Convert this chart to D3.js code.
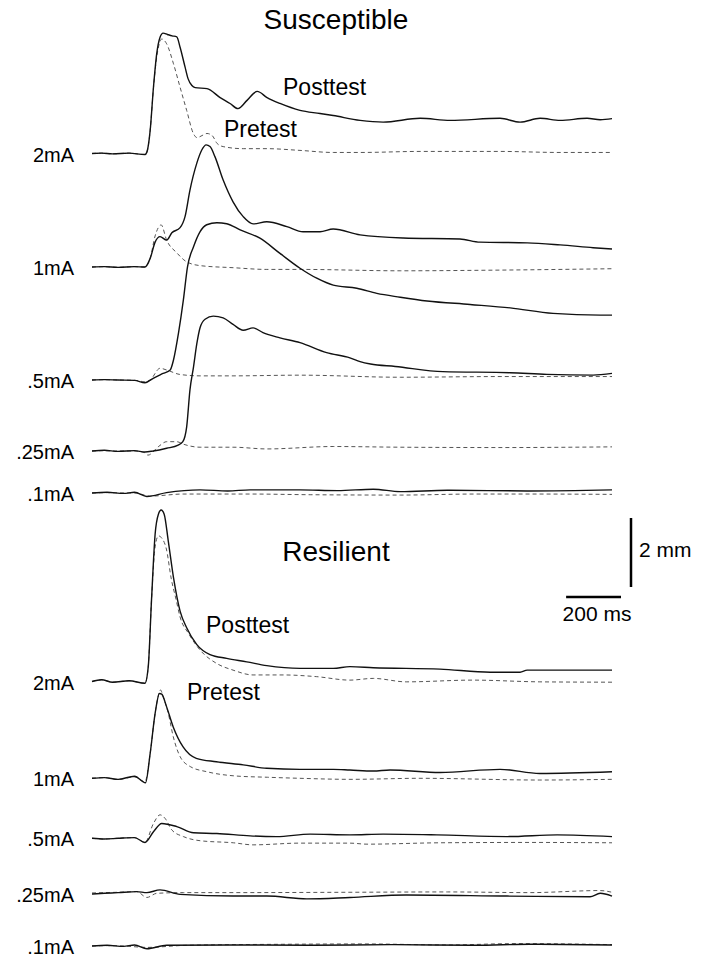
<!DOCTYPE html>
<html>
<head>
<meta charset="utf-8">
<script src="https://cdn.jsdelivr.net/npm/d3@7"></script>
<style>
  body { margin: 0; background: #fff; }
  svg { display: block; font-family: "Liberation Sans", Arial, sans-serif; }
</style>
</head>
<body>
<div id="chart"></div>
<script>
// Startle traces, [time (ms), amplitude (mm)]
const stimuli = ["2mA", "1mA", ".5mA", ".25mA", ".1mA"];
const groups = ["Susceptible", "Resilient"];

// Susceptible
const susPost2 = [[-95,0],[-60,0.01],[-20,-0.01],[40,0.01],[98,-0.03],[105,0.04],[117,0.67],[129,1.92],[141,2.90],[153,3.37],[164,3.49],[180,3.45],[197,3.41],[214,3.38],[226,3.08],[244,2.51],[255,2.17],[269,1.97],[281,1.91],[324,1.88],[372,1.62],[408,1.45],[437,1.30],[470,1.54],[507,1.80],[543,1.62],[590,1.45],[663,1.25],[736,1.16],[784,1.10],[882,0.96],[966,0.91],[1101,1.02],[1210,0.96],[1392,1.02],[1465,0.91],[1538,1.02],[1611,0.96],[1709,1.02],[1757,0.98],[1800,1.01]];
const susPre2 = [[-95,0],[-60,0.01],[-20,-0.01],[40,0.01],[98,-0.03],[105,0.04],[117,0.67],[129,1.9],[141,2.8],[153,3.25],[159,3.32],[177,3.18],[202,2.6],[226,1.92],[250,1.25],[275,0.57],[288,0.46],[306,0.52],[324,0.58],[343,0.52],[361,0.29],[383,0.20],[456,0.14],[543,0.14],[663,0.09],[784,0.03],[882,0.03],[1101,0.06],[1392,0.06],[1611,0.03],[1800,0.03]];
const susPost1 = [[-95,0],[-50,0.01],[0,-0.01],[60,0.01],[98,0],[117,0.25],[135,0.72],[153,0.88],[177,0.78],[196,0.99],[226,1.14],[244,1.46],[262,2.23],[287,3.01],[305,3.39],[321,3.54],[335,3.49],[353,3.20],[383,2.52],[419,1.89],[456,1.46],[492,1.25],[542,1.31],[615,1.17],[674,1.02],[736,1.02],[784,1.10],[882,0.93],[1039,0.84],[1246,0.81],[1319,0.72],[1491,0.70],[1611,0.64],[1731,0.56],[1800,0.52]];
const susPre1 = [[-95,0],[-50,0.01],[0,-0.01],[60,0.01],[98,0],[117,0.25],[135,0.9],[157,1.22],[177,0.78],[214,0.41],[250,0.15],[299,0.04],[419,-0.02],[542,-0.07],[663,-0.07],[1028,-0.11],[1392,-0.09],[1800,-0.05]];
const susPost05 = [[-95,0],[-50,0.01],[0,0],[60,-0.01],[98,-0.08],[128,0.05],[164,0.19],[190,0.29],[202,0.58],[220,1.35],[238,2.32],[253,3.28],[275,3.86],[299,4.30],[323,4.50],[360,4.56],[396,4.53],[445,4.35],[517,4.11],[590,3.67],[663,3.24],[724,2.95],[784,2.75],[870,2.66],[943,2.51],[1028,2.40],[1126,2.29],[1283,2.19],[1429,2.09],[1585,1.93],[1757,1.88],[1800,1.88]];
const susPre05 = [[-95,0],[-50,0.01],[0,0],[60,-0.01],[98,-0.05],[117,0],[153,0.34],[177,0.29],[226,0.16],[299,0.12],[419,0.12],[663,0.14],[1028,0.08],[1392,0.1],[1800,0.1]];
const susPost025 = [[-95,0],[-50,0.02],[0,-0.01],[60,0.01],[98,-0.03],[128,0],[177,0.08],[219,0.17],[236,0.27],[250,0.70],[262,1.77],[275,2.44],[287,3.11],[299,3.58],[317,3.82],[347,3.91],[383,3.86],[419,3.67],[456,3.50],[492,3.57],[528,3.43],[590,3.28],[663,3.14],[760,2.85],[845,2.70],[882,2.59],[920,2.52],[1010,2.45],[1184,2.30],[1429,2.27],[1563,2.22],[1731,2.20],[1800,2.25]];
const susPre025 = [[-95,0],[-50,0.01],[0,0],[60,0],[98,-0.05],[109,-0.12],[146,0.12],[177,0.27],[214,0.27],[237,0.20],[299,0.11],[419,0.11],[542,0.06],[784,0.13],[1028,0.11],[1400,0.1],[1800,0.12]];
const susPost01 = [[-95,0],[-40,0.02],[20,-0.01],[60,0.02],[105,-0.1],[177,0.01],[299,0.09],[400,0.06],[481,0.09],[663,0.09],[800,0.07],[930,0.11],[1028,0.04],[1200,0.08],[1500,0.06],[1800,0.09]];
const susPre01 = [[-95,0],[-40,0.01],[20,0],[60,0],[117,-0.09],[237,-0.03],[481,-0.03],[700,-0.05],[1028,-0.06],[1300,-0.03],[1500,-0.03],[1800,-0.04]];

// Resilient
const resPost2 = [[-95,0],[-60,0.05],[-20,-0.02],[40,0.02],[98,-0.05],[110,0.43],[122,2.38],[135,4.27],[147,4.85],[157,4.97],[168,4.85],[183,4.07],[202,3.01],[226,2.04],[250,1.56],[287,1.07],[335,0.78],[396,0.67],[469,0.57],[542,0.46],[663,0.38],[784,0.38],[845,0.43],[930,0.40],[1173,0.36],[1356,0.27],[1465,0.27],[1491,0.33],[1658,0.33],[1800,0.33]];
const resPre2 = [[-95,0],[-60,0.05],[-20,-0.02],[40,0.02],[98,-0.05],[110,0.43],[122,2.38],[135,3.9],[147,4.22],[160,4.15],[176,3.84],[194,2.97],[211,2.39],[226,1.87],[257,1.39],[299,0.91],[360,0.52],[419,0.33],[492,0.19],[601,0.19],[724,0.14],[845,0.04],[930,0.09],[1050,-0.01],[1293,0.04],[1537,-0.01],[1800,-0.02]];
const resPost1 = [[-95,0],[-50,0.02],[0,-0.03],[60,0.06],[100,-0.13],[117,0.72],[135,1.88],[151,2.46],[159,2.44],[177,2.07],[201,1.49],[237,0.91],[285,0.58],[358,0.48],[456,0.39],[542,0.29],[663,0.26],[785,0.26],[845,0.24],[930,0.21],[991,0.24],[1173,0.17],[1392,0.26],[1537,0.14],[1800,0.19]];
const resPre1 = [[-95,0],[-50,0.02],[0,-0.03],[60,0.04],[98,-0.1],[117,0.72],[135,1.88],[155,2.56],[164,2.37],[183,1.88],[201,1.21],[226,0.63],[263,0.34],[324,0.19],[424,0.07],[545,0.03],[663,0],[845,-0.03],[1100,0],[1537,-0.05],[1800,-0.03]];
const resPost05 = [[-95,0],[-50,-0.02],[0,0],[60,0.02],[98,-0.12],[129,0.19],[159,0.43],[214,0.34],[275,0.16],[360,0.14],[481,0.07],[578,0.05],[700,0.12],[845,0.10],[966,0.12],[1162,0.10],[1418,0.05],[1600,0.10],[1800,0.05]];
const resPre05 = [[-95,0],[-50,-0.02],[0,0],[60,0.02],[98,-0.12],[129,0.43],[153,0.68],[171,0.58],[196,0.24],[238,0.05],[299,-0.07],[420,-0.13],[492,-0.19],[663,-0.14],[845,-0.14],[907,-0.17],[1173,-0.13],[1500,-0.12],[1800,-0.13]];
const resPost025 = [[-95,0],[-50,0.02],[0,0.04],[68,0.07],[105,0.04],[153,0.12],[226,-0.01],[420,-0.06],[542,-0.06],[688,-0.14],[845,-0.10],[1050,-0.03],[1418,-0.06],[1720,-0.08],[1757,0.02],[1800,-0.06]];
const resPre025 = [[-95,0.03],[-50,0.04],[0,0.05],[68,0.07],[105,-0.1],[141,0.02],[238,0.04],[420,0.04],[845,0.05],[1200,0.06],[1500,0.04],[1757,0.1],[1800,0.05]];
const resPost01 = [[-95,0],[-40,0.02],[20,-0.01],[60,0.03],[105,-0.08],[177,0.02],[420,0.03],[700,0.02],[1000,0.04],[1300,0.02],[1500,0.05],[1800,0.03]];
const resPre01 = [[-95,0],[-40,0.01],[20,0],[105,-0.04],[250,0.02],[600,0.05],[900,0.06],[1200,0.03],[1450,0.07],[1800,0.04]];

const posttest = [
  [susPost2, susPost1, susPost05, susPost025, susPost01],
  [resPost2, resPost1, resPost05, resPost025, resPost01]
];
const pretest = [
  [susPre2, susPre1, susPre05, susPre025, susPre01],
  [resPre2, resPre1, resPre05, resPre025, resPre01]
];

// layout
const width = 704, height = 959;
const rowBase = [
  [153.5, 267, 380, 451, 493],
  [681.5, 778.3, 838.3, 894, 946]
];
const pxPerMm = 34.5;

const xScale = d3.scaleLinear()
  .domain([-95, 1800])
  .range([92, 612]);

const lineFor = base => {
  const y = d3.scaleLinear().domain([0, 1]).range([base, base - pxPerMm]);
  return d3.line()
    .x(d => xScale(d[0]))
    .y(d => y(d[1]))
    .curve(d3.curveMonotoneX);
};

const svg = d3.select("#chart")
  .append("svg")
    .attr("width", width)
    .attr("height", height)
    .attr("viewBox", [0, 0, width, height]);

groups.forEach((g, gi) => {
  stimuli.forEach((s, si) => {
    const line = lineFor(rowBase[gi][si]);
    // pretest first, dashed
    svg.append("path")
      .attr("d", line(pretest[gi][si]))
      .attr("fill", "none")
      .attr("stroke", "#555")
      .attr("stroke-width", 1)
      .attr("stroke-dasharray", "4,3");
    svg.append("path")
      .attr("d", line(posttest[gi][si]))
      .attr("fill", "none")
      .attr("stroke", "#111")
      .attr("stroke-width", 1.4)
      .attr("stroke-linejoin", "round");

    svg.append("text")
      .text(s)
      .attr("x", 74)
      .attr("y", rowBase[gi][si] + 1)
      .attr("text-anchor", "end")
      .attr("dominant-baseline", "central")
      .style("font-size", "20px");
  });
});

// group titles
const titles = [{text: "Susceptible", y: 28.5}, {text: "Resilient", y: 561}];
svg.selectAll(".title")
  .data(titles)
  .join("text")
    .attr("class", "title")
    .text(d => d.text)
    .attr("x", 336)
    .attr("y", d => d.y)
    .attr("text-anchor", "middle")
    .style("font-size", "28px");

// trace labels
const traceLabels = [
  {text: "Posttest", x: 283, y: 95},
  {text: "Pretest", x: 224, y: 137},
  {text: "Posttest", x: 206, y: 633},
  {text: "Pretest", x: 187, y: 700}
];
svg.selectAll(".trace-label")
  .data(traceLabels)
  .join("text")
    .attr("class", "trace-label")
    .text(d => d.text)
    .attr("x", d => d.x)
    .attr("y", d => d.y)
    .style("font-size", "23px");

// scale bars: 2 mm and 200 ms
const vx = 631, vBottom = 587;
svg.append("line")
  .attr("x1", vx).attr("x2", vx)
  .attr("y1", vBottom).attr("y2", vBottom - 2 * pxPerMm)
  .attr("stroke", "#000")
  .attr("stroke-width", 2.5);
svg.append("text")
  .text("2 mm")
  .attr("x", 639)
  .attr("y", 557)
  .style("font-size", "21px");

const hRight = 621, hy = 597;
const barLen = xScale(200) - xScale(0);
svg.append("line")
  .attr("x1", hRight - barLen).attr("x2", hRight)
  .attr("y1", hy).attr("y2", hy)
  .attr("stroke", "#000")
  .attr("stroke-width", 2.5);
svg.append("text")
  .text("200 ms")
  .attr("x", 597)
  .attr("y", 621)
  .attr("text-anchor", "middle")
  .style("font-size", "21px");
</script>
</body>
</html>
